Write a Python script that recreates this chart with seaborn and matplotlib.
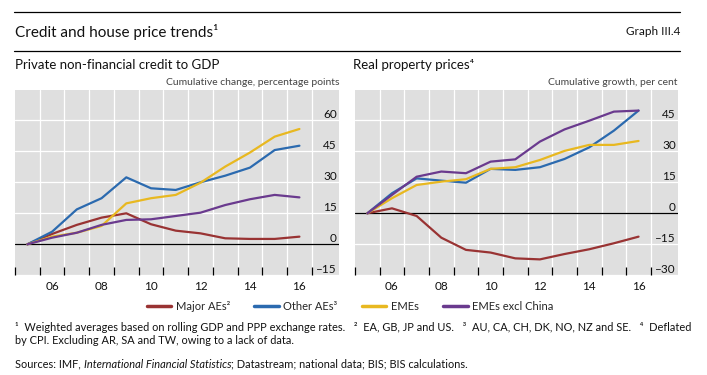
import matplotlib
matplotlib.use("Agg")
import matplotlib.pyplot as plt
import matplotlib.transforms as mtransforms
from matplotlib.lines import Line2D
import seaborn as sns
import pandas as pd

# yearly values, cumulative since 2005
years = list(range(2005, 2017))
series_names = ["Major AEs", "Other AEs", "EMEs", "EMEs excl China"]
legend_labels = ["Major AEs²", "Other AEs³", "EMEs", "EMEs excl China"]

credit_major = [0, 5.0, 9.4, 12.9, 15.0, 9.7, 6.6, 5.3, 2.9, 2.6, 2.6, 3.7]
credit_other = [0, 6.1, 16.9, 22.3, 32.4, 27.1, 26.3, 30.0, 33.2, 37.1, 45.6, 47.7]
credit_emes = [0, 3.7, 5.6, 8.9, 19.8, 22.3, 23.9, 29.8, 37.6, 44.4, 52.1, 55.8]
credit_emes_xc = [0, 3.2, 5.6, 9.4, 11.8, 12.1, 13.7, 15.3, 19.0, 21.8, 23.9, 22.7]

prop_major = [0, 2.4, -1.3, -11.8, -17.7, -19.0, -21.8, -22.3, -19.7, -17.4, -14.5, -11.3]
prop_other = [0, 9.7, 16.9, 15.8, 14.8, 21.5, 21.0, 22.3, 26.3, 31.9, 40.0, 49.7]
prop_emes = [0, 7.3, 13.7, 15.3, 16.5, 21.5, 22.3, 25.8, 30.2, 33.1, 33.1, 35.0]
prop_emes_xc = [0, 8.9, 17.7, 20.2, 19.4, 25.0, 26.1, 34.7, 40.6, 44.8, 49.2, 49.7]

credit_yticks = [-15, 0, 15, 30, 45, 60]
prop_yticks = [-30, -15, 0, 15, 30, 45]
xtick_labels = ["06", "08", "10", "12", "14", "16"]

colors = {"Major AEs": "#993333", "Other AEs": "#2b6aaf",
          "EMEs": "#e8b820", "EMEs excl China": "#6a3a8e"}


def to_long(vals):
    rows = []
    for name, v in zip(series_names, vals):
        for y, val in zip(years, v):
            # points sit in the middle of each year
            rows.append({"year": y + 0.5, "value": val, "series": name})
    return pd.DataFrame(rows)


df_credit = to_long([credit_major, credit_other, credit_emes, credit_emes_xc])
df_prop = to_long([prop_major, prop_other, prop_emes, prop_emes_xc])

sns.set_theme(style="white")
plt.rcParams['font.family'] = ['Lato', 'DejaVu Sans']

fig = plt.figure(figsize=(7.07, 3.75), dpi=100)
ax1 = fig.add_axes([15 / 707, 1 - 275.3 / 375, 324 / 707, 185.3 / 375])
ax2 = fig.add_axes([355 / 707, 1 - 275.3 / 375, 323 / 707, 185.3 / 375])


def style_panel(ax, df, yticks, ylim):
    ax.set_facecolor("#dfdfdf")
    ax.set_xlim(2005, 2018.1)
    ax.set_ylim(*ylim)
    for y in yticks:
        ax.axhline(y, color="white", lw=0.9, zorder=0.5)
    for x in range(2006, 2018):
        ax.axvline(x, color="white", lw=0.9, zorder=0.5)
    ax.axhline(0, color="black", lw=0.9, zorder=1)
    sns.lineplot(data=df, x="year", y="value", hue="series", hue_order=series_names,
                 palette=colors, lw=1.6, legend=False, ax=ax, zorder=3)
    for s in ax.spines.values():
        s.set_visible(False)
    ax.set_xlabel("")
    ax.set_ylabel("")
    ax.set_xticks(range(2005, 2018))
    ax.set_xticklabels([])
    ax.set_xticks([2006.5 + 2 * i for i in range(6)], minor=True)
    ax.set_xticklabels(xtick_labels, minor=True)
    ax.tick_params(axis="x", which="major", direction="in", length=6, width=0.9,
                   color="black", bottom=True)
    ax.tick_params(axis="x", which="minor", length=0, pad=4, labelsize=8.5,
                   labelcolor="#111111")
    ax.set_yticks([])
    trans = mtransforms.blended_transform_factory(ax.transAxes, ax.transData)
    for y in yticks:
        ax.text(0.993, y, f"{y:g}".replace("-", "\u2013"), transform=trans,
                ha="right", va="bottom", fontsize=8.5, color="#111111", zorder=4)


style_panel(ax1, df_credit, credit_yticks, (-15, 74.66))
style_panel(ax2, df_prop, prop_yticks, (-30, 59.66))

# header
fig.add_artist(Line2D([14 / 707, 680 / 707], [1 - 11.7 / 375] * 2, color="black", lw=0.9))
fig.add_artist(Line2D([14 / 707, 680 / 707], [1 - 50.7 / 375] * 2, color="black", lw=0.9))
fig.text(15 / 707, 1 - 31.5 / 375, "Credit and house price trends¹", fontsize=11,
         va="center", ha="left", color="#111111")
fig.text(680 / 707, 1 - 31.5 / 375, "Graph III.4", fontsize=8.5, va="center", ha="right",
         color="#111111")
fig.text(15 / 707, 1 - 65 / 375, "Private non-financial credit to GDP", fontsize=9.5,
         va="center", ha="left", color="#111111")
fig.text(353 / 707, 1 - 65 / 375, "Real property prices⁴", fontsize=9.5,
         va="center", ha="left", color="#111111")
fig.text(339 / 707, 1 - 82.7 / 375, "Cumulative change, percentage points", fontsize=7.5,
         va="center", ha="right", color="#444444")
fig.text(677 / 707, 1 - 82.7 / 375, "Cumulative growth, per cent", fontsize=7.5,
         va="center", ha="right", color="#444444")

# legend
handles = [Line2D([0], [0], color=colors[n], lw=2.5) for n in series_names]
fig.legend(handles, legend_labels, loc="center", bbox_to_anchor=(350 / 707, 1 - 306 / 375),
           ncol=4, frameon=False, fontsize=8, handlelength=2.2, handletextpad=0.4,
           columnspacing=2.2)

# footnotes
fig.text(15 / 707, 1 - 327.5 / 375,
         "¹  Weighted averages based on rolling GDP and PPP exchange rates.   "
         "²  EA, GB, JP and US.   ³  AU, CA, CH, DK, NO, NZ and SE.   ⁴  Deflated",
         fontsize=7.9, va="center", ha="left", color="#111111")
fig.text(15 / 707, 1 - 341 / 375, "by CPI. Excluding AR, SA and TW, owing to a lack of data.",
         fontsize=7.9, va="center", ha="left", color="#111111")

renderer = fig.canvas.get_renderer()
x0 = 15
parts = [("Sources: IMF, ", "normal"), ("International Financial Statistics", "italic"),
         ("; Datastream; national data; BIS; BIS calculations.", "normal")]
for txt, st in parts:
    t = fig.text(x0 / 707, 1 - 364 / 375, txt, fontsize=7.9, va="center", ha="left",
                 style=st, color="#111111")
    x0 += t.get_window_extent(renderer).width

fig.savefig("out.png", dpi=100)
